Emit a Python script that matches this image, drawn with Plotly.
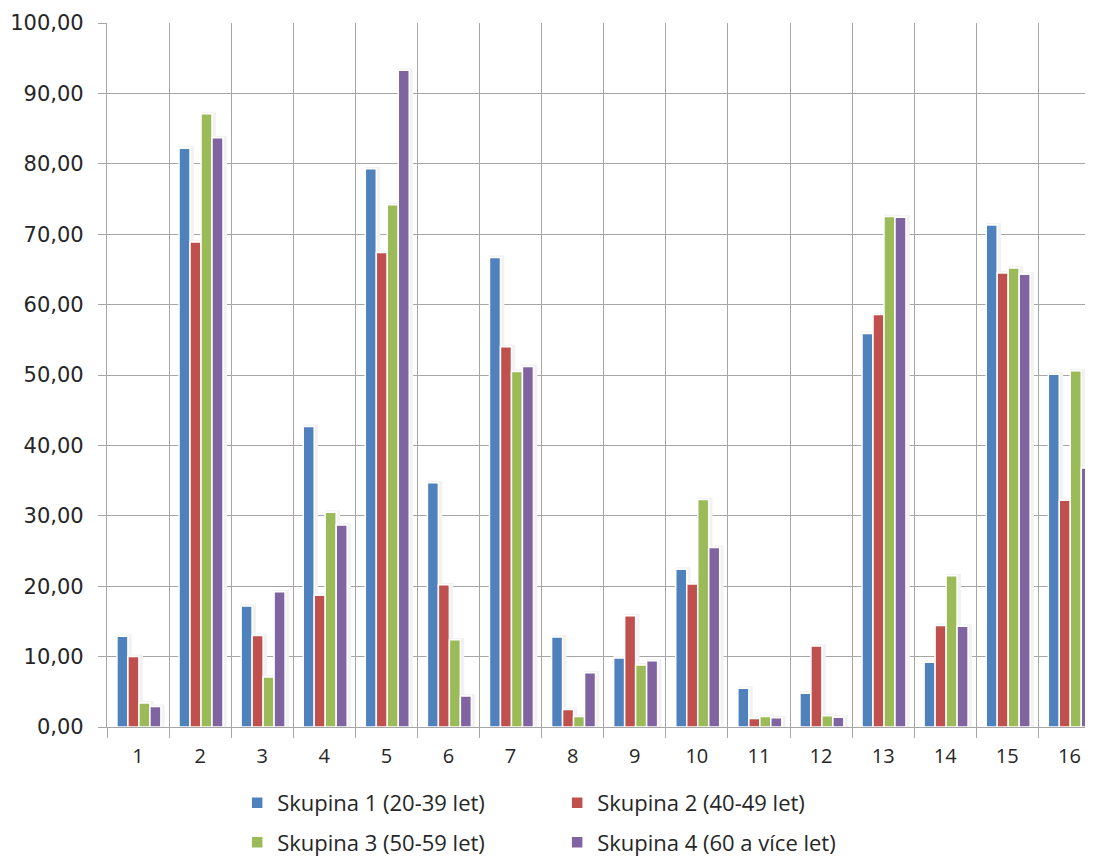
import plotly.graph_objects as go

categories = [str(i) for i in range(1, 17)]
series_names = ["Skupina 1 (20-39 let)", "Skupina 2 (40-49 let)",
                "Skupina 3 (50-59 let)", "Skupina 4 (60 a více let)"]
skupina1 = [12.9, 82.2, 17.2, 42.7, 79.3, 34.7, 66.7, 12.8, 9.8, 22.4, 5.5, 4.8, 55.9, 9.2, 71.3, 50.1]
skupina2 = [10.0, 68.9, 13.0, 18.7, 67.4, 20.2, 54.0, 2.5, 15.8, 20.3, 1.2, 11.5, 58.6, 14.4, 64.5, 32.2]
skupina3 = [3.4, 87.1, 7.1, 30.5, 74.2, 12.4, 50.5, 1.5, 8.8, 32.3, 1.5, 1.6, 72.5, 21.5, 65.2, 50.6]
skupina4 = [2.9, 83.7, 19.2, 28.7, 93.3, 4.4, 51.2, 7.7, 9.4, 25.5, 1.3, 1.4, 72.4, 14.3, 64.3, 36.8]
colors = ["#4f81bd", "#c0504d", "#9bbb59", "#8064a2"]
y_ticks = [0, 10, 20, 30, 40, 50, 60, 70, 80, 90, 100]
y_tick_text = ["%d,00" % v for v in y_ticks]

all_series = [skupina1, skupina2, skupina3, skupina4]
legend_ids = ["legend", "legend", "legend2", "legend2"]

slot = 0.177
group_start = -0.34

fig = go.Figure()
# soft shadows behind each bar
for i, vals in enumerate(all_series):
    fig.add_trace(go.Bar(
        x=categories, y=vals, showlegend=False, hoverinfo="skip",
        width=slot, offset=group_start + i * slot + 0.03,
        marker=dict(color="#e6e6e6", line=dict(color="#f2f2f2", width=4)),
    ))
for i, (name, vals, col, lg) in enumerate(zip(series_names, all_series, colors, legend_ids)):
    fig.add_trace(go.Bar(
        x=categories, y=vals, name=name, legend=lg,
        width=slot, offset=group_start + i * slot,
        marker=dict(color=col, line=dict(color="white", width=1.5)),
    ))

grid_col = "#a6a6a6"
font_fam = "Open Sans"
fig.update_layout(
    width=1085, height=849,
    margin=dict(l=99, r=0, t=15, b=130, autoexpand=False),
    plot_bgcolor="white", paper_bgcolor="white",
    barmode="overlay",
    font=dict(family=font_fam, color="#262626"),
    xaxis=dict(
        type="category", range=[-0.5, 15.38], automargin=False,
        tickson="boundaries", ticks="outside", ticklen=10, tickcolor=grid_col,
        showgrid=True, gridcolor=grid_col, gridwidth=1.3,
        showline=True, linecolor=grid_col, linewidth=1.3,
        tickfont=dict(family=font_fam, size=20, color="#262626"),
        ticklabelstandoff=11,
    ),
    yaxis=dict(
        range=[0, 100], tickvals=y_ticks, ticktext=y_tick_text, automargin=False,
        ticks="outside", ticklen=8, tickcolor=grid_col,
        showgrid=True, gridcolor=grid_col, gridwidth=1.3,
        showline=True, linecolor=grid_col, linewidth=1.3,
        tickfont=dict(family="DejaVu Sans", size=21, color="#262626"),
        ticklabelstandoff=10, zeroline=False,
    ),
    legend=dict(orientation="h", x=0.132, xanchor="left", y=-0.078, yanchor="top",
                entrywidth=275, entrywidthmode="pixels",
                font=dict(family=font_fam, size=22, color="#262626"),
                traceorder="normal"),
    legend2=dict(orientation="h", x=0.132, xanchor="left", y=-0.134, yanchor="top",
                 entrywidth=275, entrywidthmode="pixels",
                 font=dict(family=font_fam, size=22, color="#262626"),
                 traceorder="normal"),
)

fig.write_html("out.html")
